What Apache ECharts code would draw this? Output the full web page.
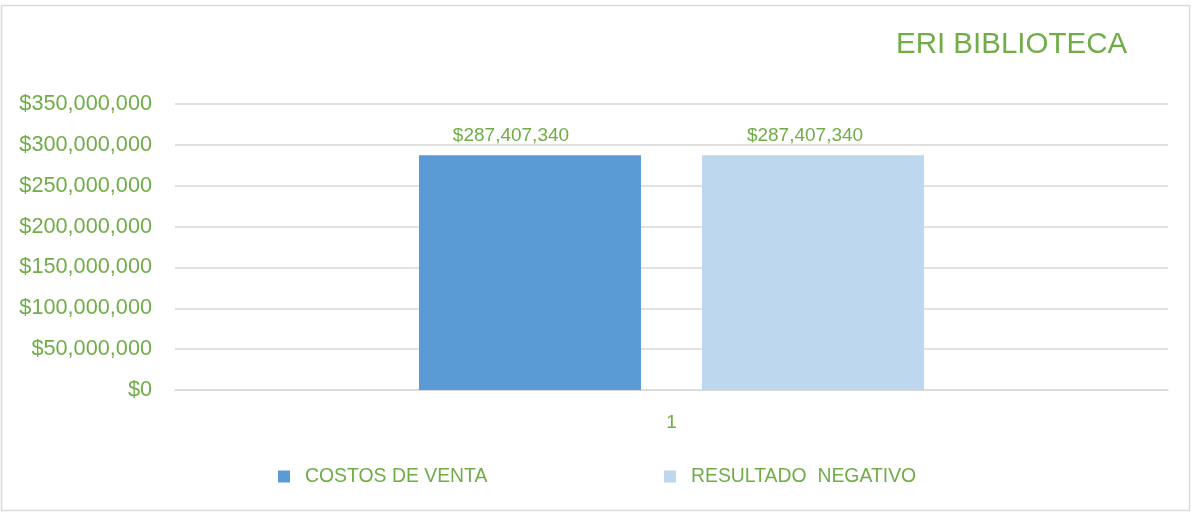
<!DOCTYPE html>
<html lang="en">
<head>
  <meta charset="UTF-8">
  <title>ERI BIBLIOTECA</title>
  <style type="text/css">
    html, body { margin: 0; padding: 0; background: #fff; }
    #eri { width: 1196px; height: 513px; }
  </style>
</head>
<body>
  <div id="eri"></div>
  <script src="https://cdn.jsdelivr.net/npm/echarts@6/dist/echarts.min.js"></script>
  <script type="text/javascript">
    var categories = ['1']
    var costosVenta = [287407340]
    var resultadoNegativo = [287407340]
    var seriesNames = ['COSTOS DE VENTA', 'RESULTADO  NEGATIVO']

    var green = '#70ad47'
    var font = 'Liberation Sans'

    function money (v) {
      return '$' + String(v).replace(/\B(?=(\d{3})+(?!\d))/g, ',')
    }

    var myChart = echarts.init(document.getElementById('eri'))
    var legendText = { color: green, fontSize: 19.4, fontFamily: font, padding: [0, 0, 0, 10] }
    var option = {
      textStyle: { fontFamily: font },
      graphic: [{
        type: 'rect',
        shape: { x: 1.5, y: 5.5, width: 1188, height: 505 },
        style: { fill: 'none', stroke: '#d9d9d9', lineWidth: 1.5 },
        silent: true
      }],
      title: {
        text: 'ERI BIBLIOTECA',
        left: 891,
        top: 25,
        textStyle: { color: green, fontSize: 29.5, fontWeight: 'normal', fontFamily: font }
      },
      legend: [
        {
          data: [seriesNames[0]],
          left: 273, top: 462,
          icon: 'rect', itemWidth: 12, itemHeight: 12, itemGap: 0,
          textStyle: legendText
        },
        {
          data: [seriesNames[1]],
          left: 659, top: 462,
          icon: 'rect', itemWidth: 12, itemHeight: 12, itemGap: 0,
          textStyle: legendText
        }
      ],
      grid: { left: 175, right: 28, top: 104, bottom: 123, containLabel: false },
      xAxis: {
        type: 'category',
        data: categories,
        axisTick: { show: false },
        axisLine: { lineStyle: { color: '#d9d9d9', width: 1.5 } },
        axisLabel: { color: green, fontSize: 19, margin: 23 }
      },
      yAxis: {
        type: 'value',
        min: 0,
        max: 350000000,
        interval: 50000000,
        axisLine: { show: false },
        axisTick: { show: false },
        splitLine: { lineStyle: { color: '#d9d9d9', width: 1.5 } },
        axisLabel: { color: green, fontSize: 21.7, margin: 23, formatter: money }
      },
      series: [
        {
          name: seriesNames[0],
          type: 'bar',
          data: costosVenta,
          barWidth: 222,
          barGap: '27.5%',
          itemStyle: { color: '#5b9bd5' },
          label: { show: true, position: 'top', distance: 10, offset: [-19, 0], color: green, fontSize: 19, formatter: function (p) { return money(p.value) } }
        },
        {
          name: seriesNames[1],
          type: 'bar',
          data: resultadoNegativo,
          barWidth: 222,
          barGap: '27.5%',
          itemStyle: { color: '#bdd7ee' },
          label: { show: true, position: 'top', distance: 10, offset: [-8, 0], color: green, fontSize: 19, formatter: function (p) { return money(p.value) } }
        }
      ]
    }
    myChart.setOption(option)
  </script>
</body>
</html>
